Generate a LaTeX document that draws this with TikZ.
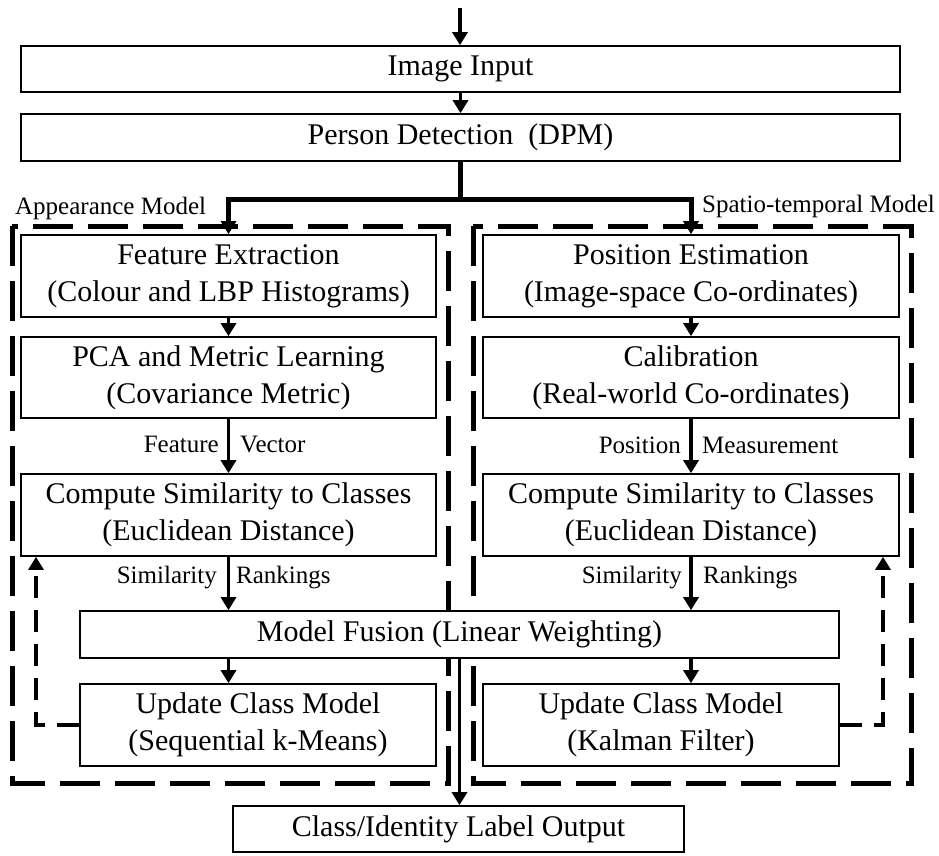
\documentclass[tikz,border=0pt]{standalone}
\usepackage{fontspec}
\setmainfont{Liberation Serif}
\usetikzlibrary{arrows.meta}
\tikzset{
  box/.style={draw, fill=white, line width=1.7pt, inner sep=0pt, align=center,
    font=\fontsize{30}{37}\selectfont},
  lbl/.style={inner sep=0pt, font=\fontsize{25}{30}\selectfont},
  arr/.style={line width=3.5pt, -{Triangle[length=13pt,width=15pt]}},
  forkline/.style={line width=5pt},
  grpbox/.style={line width=5pt, dash pattern=on 40pt off 15pt},
  fbline/.style={line width=3.5pt, dash pattern=on 22pt off 12pt, -{Triangle[length=13pt,width=15pt]}}
}
\begin{document}
\begin{tikzpicture}[x=1pt, y=-1pt]
\useasboundingbox (0,0) rectangle (939,855);
% group outlines
\draw[grpbox] (12,226) rectangle (448,783);
\draw[grpbox] (473,226) rectangle (911,783);
% boxes
\node[box, minimum width=879pt, minimum height=46pt] (img) at (460.5,69) {Image Input};
\node[box, minimum width=879pt, minimum height=47pt] (pd) at (460.5,137.5) {Person Detection\ \ (DPM)};
\node[box, minimum width=415pt, minimum height=82pt] (fe) at (228.5,276) {Feature Extraction\\(Colour and LBP Histograms)};
\node[box, minimum width=415pt, minimum height=81pt] (pca) at (228.5,377.5) {PCA and Metric Learning\\(Covariance Metric)};
\node[box, minimum width=415pt, minimum height=82pt] (csl) at (228.5,515) {Compute Similarity to Classes\\(Euclidean Distance)};
\node[box, minimum width=416pt, minimum height=82pt] (pe) at (691,276) {Position Estimation\\(Image-space Co-ordinates)};
\node[box, minimum width=416pt, minimum height=81pt] (cal) at (691,377.5) {Calibration\\(Real-world Co-ordinates)};
\node[box, minimum width=416pt, minimum height=82pt] (csr) at (691,515) {Compute Similarity to Classes\\(Euclidean Distance)};
\node[box, minimum width=759pt, minimum height=47pt] (fus) at (459.5,634.5) {Model Fusion (Linear Weighting)};
\node[box, minimum width=356pt, minimum height=82pt] (ucl) at (258,725) {Update Class Model\\(Sequential k-Means)};
\node[box, minimum width=356pt, minimum height=82pt] (ucr) at (661,725) {Update Class Model\\(Kalman Filter)};
\node[box, minimum width=451pt, minimum height=46pt] (out) at (458.5,829) {Class/Identity Label Output};
% group labels
\node[lbl, anchor=base west] (lapp) at (15,214) {Appearance Model};
\node[lbl, anchor=base west] (lspt) at (702,212) {Spatio-temporal Model};
% top arrows
\coordinate (top) at (460,8);
\draw[arr] (top) -- (top |- img.north);
\draw[arr] (img.south) -- (pd.north);
% fork
\coordinate (fork) at (460.5,199);
\draw[forkline] (pd.south) -- (fork);
\draw[forkline, -{Triangle[length=13pt,width=15pt]}] ([xshift=2.5pt]fork) -| (fe.north);
\draw[forkline, -{Triangle[length=13pt,width=15pt]}] ([xshift=-2.5pt]fork) -| (pe.north);
% left column
\draw[arr] (fe.south) -- (pca.north);
\draw[arr] (pca.south) -- (csl.north);
\node[lbl, anchor=base east] (fv1) at (219,452) {Feature};
\node[lbl, anchor=base west] (fv2) at (240,452) {Vector};
\draw[arr] (csl.south) -- (csl.south |- fus.north);
\node[lbl, anchor=base east] (sr1) at (217,583) {Similarity};
\node[lbl, anchor=base west] (sr2) at (236,583) {Rankings};
\draw[arr] (csl.south |- fus.south) -- (csl.south |- ucl.north);
% right column
\draw[arr] (pe.south) -- (cal.north);
\draw[arr] (cal.south) -- (csr.north);
\node[lbl, anchor=base east] (pm1) at (681,453) {Position};
\node[lbl, anchor=base west] (pm2) at (702,453) {Measurement};
\draw[arr] (csr.south) -- (csr.south |- fus.north);
\node[lbl, anchor=base east] (sr3) at (682,583) {Similarity};
\node[lbl, anchor=base west] (sr4) at (703,583) {Rankings};
\draw[arr] (csr.south |- fus.south) -- (csr.south |- ucr.north);
% output
\draw[arr] (fus.south) -- (fus.south |- out.north);
% feedback loops
\coordinate (fbl) at (36,725);
\coordinate (fbr) at (883,725);
\draw[fbline] (ucl.west) -- (fbl) -- (fbl |- csl.south);
\draw[fbline] (ucr.east) -- (fbr) -- (fbr |- csr.south);
\end{tikzpicture}
\end{document}
